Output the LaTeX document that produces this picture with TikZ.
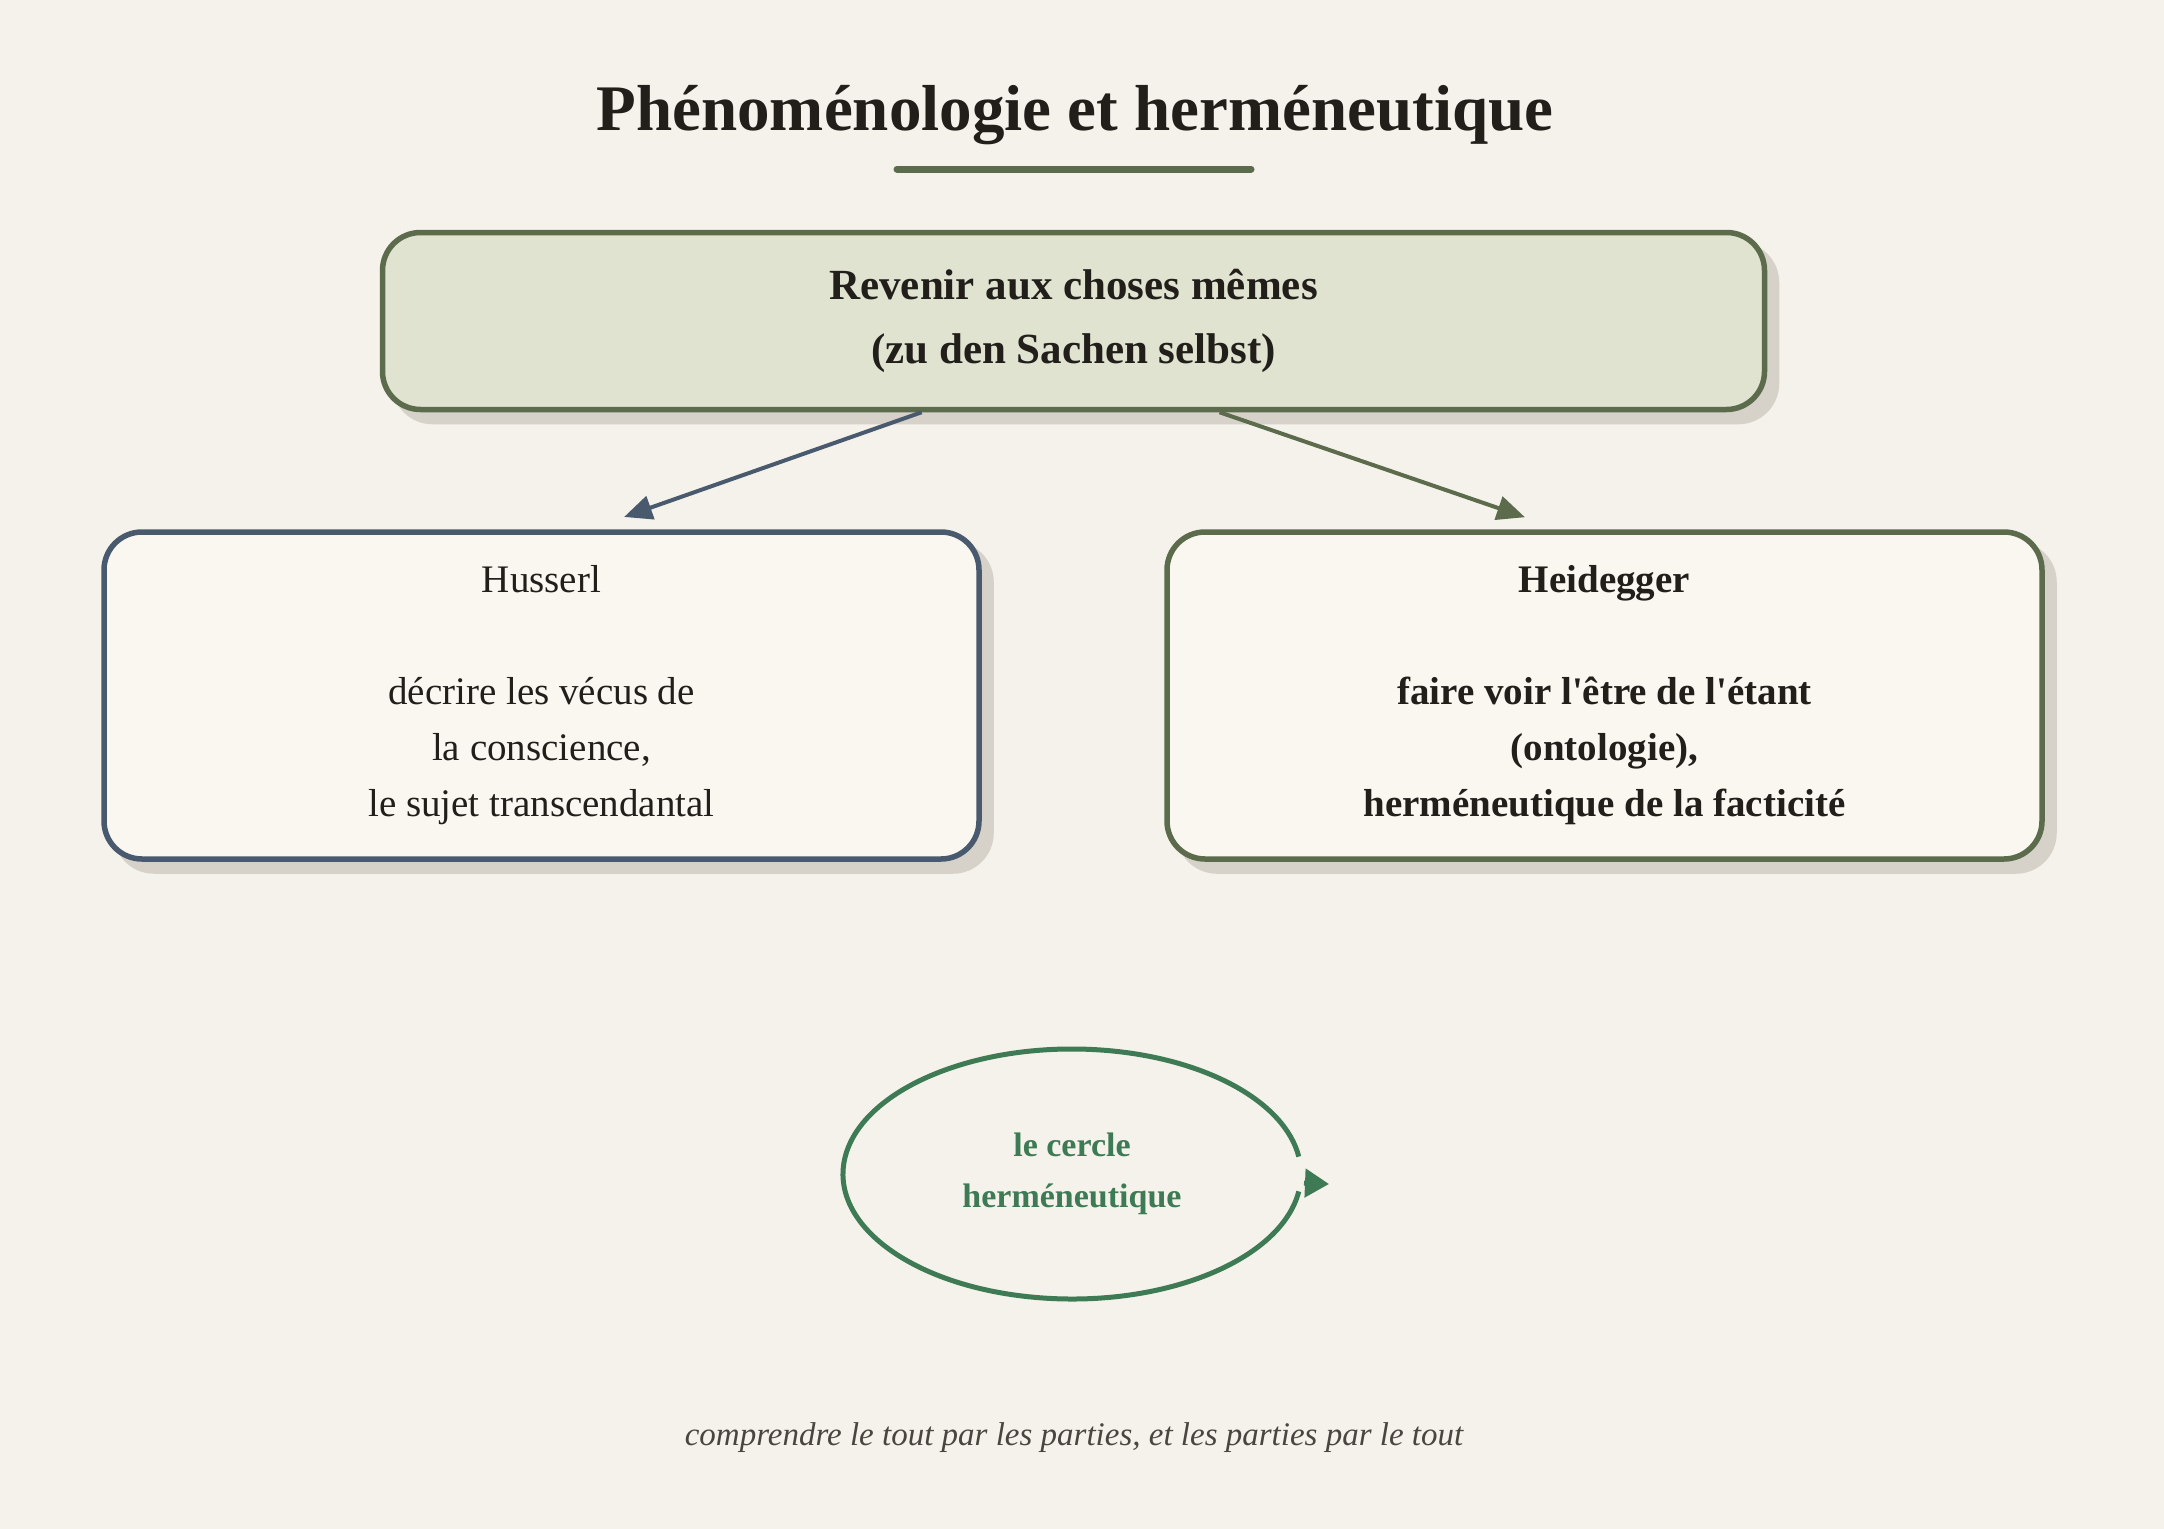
\documentclass[tikz,border=0pt]{standalone}
\usepackage{fontspec}
\setmainfont{Liberation Serif}[Ligatures=TeXOff]
\usetikzlibrary{arrows.meta,shadows}
\definecolor{bg}{HTML}{F5F2EB}
\definecolor{ink}{HTML}{221F1B}
\definecolor{greendark}{HTML}{5B6B4B}
\definecolor{topfill}{HTML}{DFE3CF}
\definecolor{slate}{HTML}{4A5A6E}
\definecolor{cardfill}{HTML}{FAF7F1}
\definecolor{shadowc}{HTML}{D6D2CA}
\definecolor{circ}{HTML}{3E7B55}
\definecolor{foot}{HTML}{4A4540}
\tikzset{
  boxshadow/.style={drop shadow={shadow xshift=12pt, shadow yshift=-12pt, fill=shadowc, draw=shadowc, line width=5.5pt, opacity=1}},
  topbox/.style={rounded corners=38pt, line width=5.5pt, draw=greendark, fill=topfill,
    minimum width=1382pt, minimum height=177pt, align=center, inner sep=0pt, text=ink,
    font=\fontsize{43}{64}\selectfont\bfseries, boxshadow},
  card/.style={rounded corners=38pt, line width=5.5pt, fill=cardfill,
    minimum width=875pt, minimum height=327pt, align=center, inner sep=0pt, text=ink,
    font=\fontsize{39}{56}\selectfont, boxshadow},
  link/.style={line width=4pt, -{Triangle[length=28pt,width=24pt]}, shorten >=37pt},
}
\begin{document}
\begin{tikzpicture}[x=1pt,y=-1pt]
\useasboundingbox[fill=bg] (0,0) rectangle (2164,1529);
% title
\node[anchor=base, text=ink, font=\fontsize{65}{72}\selectfont\bfseries, inner sep=0pt] (title) at (1075,130) {Phénoménologie et herméneutique};
\draw[greendark, line width=7pt, line cap=round] (897,169) -- (1251,169);
% boxes
\node[topbox] (top) at (1073.5,321) {Revenir aux choses mêmes\\(zu den Sachen selbst)};
\node[card, draw=slate] (hus) at (541.5,695.5) {Husserl\\[56pt]décrire les vécus de\\la conscience,\\le sujet transcendantal};
\node[card, draw=greendark, font=\fontsize{39}{56}\selectfont\bfseries] (hei) at (1604.5,695.5) {Heidegger\\[56pt]faire voir l'être de l'étant\\(ontologie),\\herméneutique de la facticité};
% arrows
\draw[link, slate] (top.211.7) -- (hus.74.5);
\draw[link, greendark] (top.328.4) -- (hei.105.2);
% circle
\node[text=circ, align=center, font=\fontsize{34}{51}\selectfont\bfseries, inner sep=0pt] (cercle) at (1072,1174) {le cercle\\herméneutique};
\draw[circ, line width=5pt] (cercle.center) ++(8:229 and 125) arc[start angle=8, end angle=352, x radius=229, y radius=125];
\draw[circ, line width=5pt, -{Triangle[length=24pt,width=28pt]}] (cercle.center) ++(232,9) coordinate (cst) -- ++(25,1);
% footer
\node[anchor=base, text=foot, font=\fontsize{33}{40}\selectfont\itshape, inner sep=0pt] (footer) at (1074,1445) {comprendre le tout par les parties, et les parties par le tout};
\end{tikzpicture}
\end{document}
